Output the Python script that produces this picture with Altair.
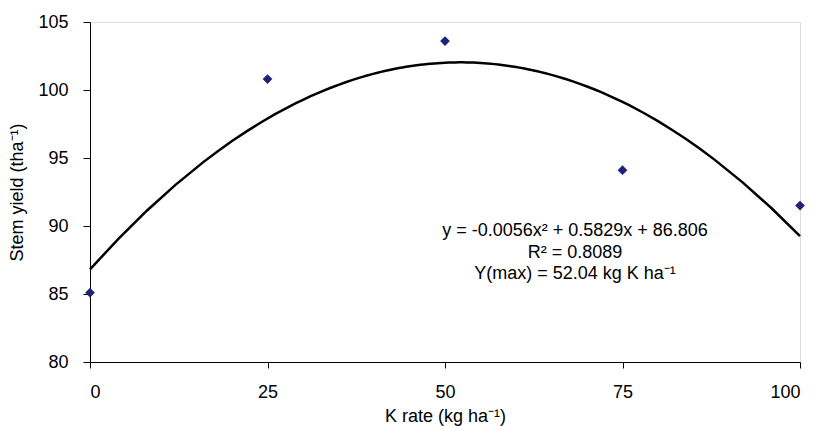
import altair as alt
import pandas as pd

k_rate = [0, 25, 50, 75, 100]
stem_yield = [85.1, 100.8, 103.6, 94.1, 91.5]
x_ticks = [0, 25, 50, 75, 100]
y_ticks = [80, 85, 90, 95, 100, 105]
eq_lines = [
    "y = -0.0056x\u00b2 + 0.5829x + 86.806",
    "R\u00b2 = 0.8089",
    "Y(max) = 52.04 kg K ha\u207b\u00b9",
]

df = pd.DataFrame({"k": k_rate, "y": stem_yield})
FONT = "Liberation Sans"

x_enc = alt.X(
    "k:Q",
    scale=alt.Scale(domain=[0, 100], nice=False),
    axis=alt.Axis(values=x_ticks, title="K rate (kg ha\u207b\u00b9)", grid=False,
                  domainColor="black", tickColor="black", tickSize=6,
                  labelPadding=15, labelColor="black", labelFontSize=18,
                  titleFontSize=18, titleFontWeight="normal", titleColor="black",
                  titlePadding=6, labelFont=FONT, titleFont=FONT),
)
y_enc = alt.Y(
    "y:Q",
    scale=alt.Scale(domain=[80, 105], nice=False, zero=False),
    axis=alt.Axis(values=y_ticks, title="Stem yield (tha\u207b\u00b9)", grid=False,
                  domainColor="black", tickColor="black", tickSize=7,
                  labelPadding=15, labelColor="black", labelFontSize=18,
                  titleFontSize=18, titleFontWeight="normal", titleColor="black",
                  titlePadding=11, labelFont=FONT, titleFont=FONT),
)

base = alt.Chart(df)

trend = base.transform_regression(
    "k", "y", method="poly", order=2, extent=[0, 100]
).mark_line(color="black", strokeWidth=2.5).encode(x=x_enc, y=y_enc)

pts = base.mark_point(shape="diamond", filled=True, color="#1f2378",
                      size=95, opacity=1).encode(x=x_enc, y=y_enc)

layers = [trend, pts]
for i, line in enumerate(eq_lines):
    layers.append(
        alt.Chart(pd.DataFrame({"txt": [line]})).mark_text(
            font=FONT, fontSize=18, color="black", align="center", baseline="middle"
        ).encode(text="txt:N", x=alt.value(485), y=alt.value(209 + 21.5 * i))
    )

chart = alt.layer(*layers).properties(
    width=710, height=340,
    padding={"left": 0, "top": 5, "right": 5, "bottom": 5},
).configure_view(stroke=None).configure(background="white")

chart.save("out.html", embed_options={"renderer": "svg", "actions": False})
